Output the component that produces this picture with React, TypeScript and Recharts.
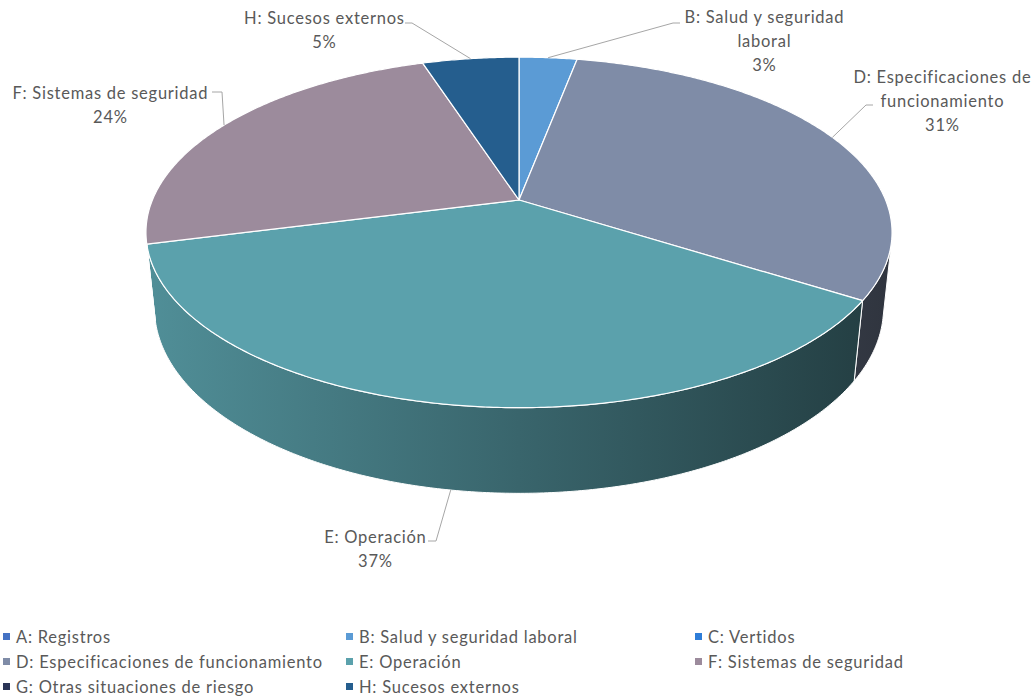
import React from 'react';
import { PieChart, Pie, Cell, Legend } from 'recharts';

const categories = [
  'A: Registros',
  'B: Salud y seguridad laboral',
  'C: Vertidos',
  'D: Especificaciones de funcionamiento',
  'E: Operación',
  'F: Sistemas de seguridad',
  'G: Otras situaciones de riesgo',
  'H: Sucesos externos',
];
const shares = [0, 3, 0, 31, 37, 24, 0, 5];
const colors = ['#4472C4', '#5B9BD5', '#2E7DD8', '#7F8CA7', '#5BA1AC', '#9C8B9C', '#2B3557', '#255E8E'];

const data = categories.map((name, i) => ({ name, value: shares[i] }));

// fake Excel-style 3D: tilted disc seen in perspective
const TILT = (27.5 * Math.PI) / 180;
const PERSP = 0.2086; // radius / camera distance
const DEPTH = 0.235; // thickness / radius
const FONT = 'Lato, "Open Sans", sans-serif';
const FONT_SIZE = 16.5;
const SPACING = 0.75;
const TEXT = '#595959';
const LEADER = '#A6A6A6';
const LINE_GAP = 24;

// where Excel put each data label (text centre, leader elbow)
const labelLayout: Record<string, { lines: string[]; x: number; y: number; elbow: number[]; end: number[] }> = {
  'B: Salud y seguridad laboral': { lines: ['B: Salud y seguridad', 'laboral'], x: 764, y: 17, elbow: [673, 23], end: [680, 23] },
  'D: Especificaciones de funcionamiento': { lines: ['D: Especificaciones de', 'funcionamiento'], x: 942, y: 77, elbow: [866, 105], end: [873, 105] },
  'E: Operación': { lines: ['E: Operación'], x: 375, y: 537, elbow: [436, 541], end: [428, 541] },
  'F: Sistemas de seguridad': { lines: ['F: Sistemas de seguridad'], x: 110, y: 93, elbow: [222, 92], end: [212, 92] },
  'H: Sucesos externos': { lines: ['H: Sucesos externos'], x: 324, y: 18, elbow: [412, 23], end: [405, 23] },
};

const project = (cx: number, cy: number, s: number, phi: number, h: number) => {
  const x = Math.sin(phi);
  const z = Math.cos(phi);
  const yc = z * Math.sin(TILT) + h * Math.cos(TILT);
  const d = 1 + PERSP * (z * Math.cos(TILT) - h * Math.sin(TILT));
  return [cx + (s * x) / d, cy - (s * yc) / d];
};

const arc = (cx: number, cy: number, s: number, a0: number, a1: number, h: number) => {
  const n = Math.max(2, Math.ceil(Math.abs(a1 - a0) / (Math.PI / 360)));
  const pts: number[][] = [];
  for (let i = 0; i <= n; i++) pts.push(project(cx, cy, s, a0 + ((a1 - a0) * i) / n, h));
  return pts;
};

const toPath = (pts: number[][]) =>
  pts.map((p, i) => `${i ? 'L' : 'M'}${p[0].toFixed(2)},${p[1].toFixed(2)}`).join(' ') + ' Z';

const shade = (hex: string, f: number) => {
  const n = parseInt(hex.slice(1), 16);
  const r = Math.round(((n >> 16) & 255) * f);
  const g = Math.round(((n >> 8) & 255) * f);
  const b = Math.round((n & 255) * f);
  return `rgb(${r},${g},${b})`;
};

const renderSlice = (props: any) => {
  const { cx, cy, outerRadius, startAngle, endAngle, fill, value, percent, index } = props;
  if (!value) return <g key={`s-${index}`} />;
  const name = props.name ?? props.payload?.name;
  const s = outerRadius;
  const rad = Math.PI / 180;
  const a0 = (90 - startAngle) * rad;
  const a1 = (90 - endAngle) * rad;
  const lim = Math.acos(-PERSP / Math.cos(TILT));
  const w0 = Math.max(a0, lim);
  const w1 = Math.min(a1, 2 * Math.PI - lim);
  const gradId = `wall-${index}`;

  const top = [[cx, cy], ...arc(cx, cy, s, a0, a1, 0)];
  const wall = w1 > w0 ? [...arc(cx, cy, s, w0, w1, 0), ...arc(cx, cy, s, w1, w0, -DEPTH)] : null;

  const mid = (a0 + a1) / 2;
  const onWall = mid > lim && mid < 2 * Math.PI - lim;
  const anchor = project(cx, cy, s, mid, onWall ? -DEPTH : 0);
  const lay = labelLayout[name];
  const pct = `${Math.round(percent * 100)}%`;

  return (
    <g key={`s-${index}`}>
      <defs>
        <linearGradient id={gradId} gradientUnits="userSpaceOnUse" x1={cx - s} y1={0} x2={cx + s} y2={0}>
          <stop offset="0" stopColor={shade(fill, 0.88)} />
          <stop offset="0.5" stopColor={shade(fill, 0.63)} />
          <stop offset="1" stopColor={shade(fill, 0.38)} />
        </linearGradient>
      </defs>
      {wall && <path d={toPath(wall)} fill={`url(#${gradId})`} stroke="#fff" strokeWidth={1} strokeLinejoin="round" />}
      <path d={toPath(top)} fill={fill} stroke="#fff" strokeWidth={1.2} strokeLinejoin="round" />
      {lay && (
        <g>
          <polyline
            points={[anchor, lay.elbow, lay.end].map((p) => p.join(',')).join(' ')}
            fill="none"
            stroke={LEADER}
            strokeWidth={1}
          />
          {[...lay.lines, pct].map((t, k) => (
            <text
              key={k}
              x={lay.x + SPACING / 2}
              y={lay.y + k * LINE_GAP}
              textAnchor="middle"
              dominantBaseline="central"
              fontFamily={FONT}
              fontSize={FONT_SIZE}
              letterSpacing={SPACING}
              fill={TEXT}
            >
              {t}
            </text>
          ))}
        </g>
      )}
    </g>
  );
};

const legendCols = [3, 346, 695];

const renderLegend = (props: any) => {
  const payload = props.payload && props.payload.length === categories.length ? props.payload : null;
  const items = categories.map((name, i) => ({
    name: payload ? payload[i].value : name,
    color: payload && payload[i].color && payload[i].color !== 'none' ? payload[i].color : colors[i],
  }));
  return (
    <div
      style={{
        position: 'relative',
        height: 76,
        fontFamily: FONT,
        fontSize: FONT_SIZE,
        letterSpacing: SPACING,
        color: TEXT,
      }}
    >
      {items.map((it, i) => (
        <div
          key={it.name}
          style={{
            position: 'absolute',
            left: legendCols[i % 3],
            top: Math.floor(i / 3) * 25,
            height: 25,
            display: 'flex',
            alignItems: 'center',
            whiteSpace: 'nowrap',
          }}
        >
          <span style={{ width: 7, height: 7, background: it.color, marginRight: 6, display: 'inline-block' }} />
          <span>{it.name}</span>
        </div>
      ))}
    </div>
  );
};

export default function App() {
  return (
    <div style={{ position: 'absolute', left: 0, top: 0, width: 1035, height: 700, background: '#fff' }}>
      <PieChart width={1035} height={700} margin={{ top: 0, right: 0, bottom: 0, left: 0 }}>
        <Pie
          data={data}
          dataKey="value"
          nameKey="name"
          cx={519}
          cy={200}
          outerRadius={366.6}
          startAngle={90}
          endAngle={-270}
          fillOpacity={0}
          stroke="none"
          label={renderSlice}
          labelLine={false}
          isAnimationActive={false}
        >
          {data.map((d, i) => (
            <Cell key={d.name} fill={colors[i]} />
          ))}
        </Pie>
        <Legend content={renderLegend} wrapperStyle={{ left: 0, top: 624, width: 1035 }} />
      </PieChart>
    </div>
  );
}
